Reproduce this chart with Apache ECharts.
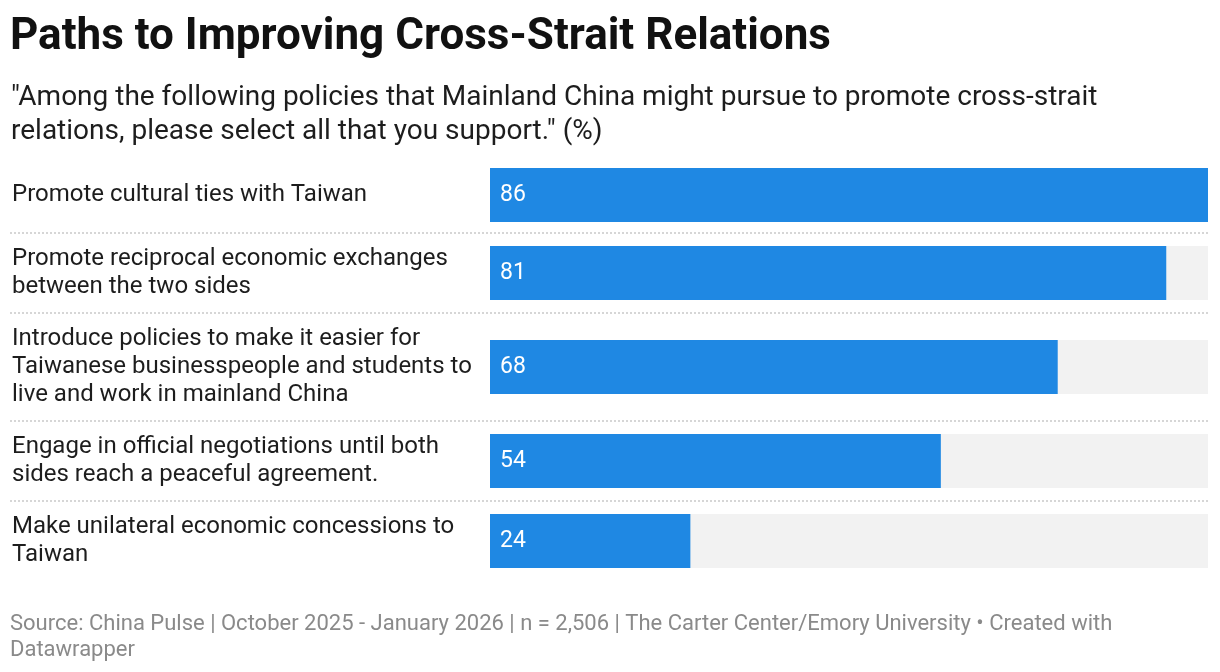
<!DOCTYPE html>
<html>
<head>
<meta charset="utf-8">
<script src="https://cdn.jsdelivr.net/npm/echarts@6/dist/echarts.min.js"></script>
<style>
  html, body { margin: 0; padding: 0; background: #fff; }
  #main { width: 1220px; height: 672px; }
</style>
</head>
<body>
<div id="main"></div>
<script>
// policies (line breaks as in the original wrapping)
const categories = [
  'Promote cultural ties with Taiwan',
  'Promote reciprocal economic exchanges\nbetween the two sides',
  'Introduce policies to make it easier for\nTaiwanese businesspeople and students to\nlive and work in mainland China',
  'Engage in official negotiations until both\nsides reach a peaceful agreement.',
  'Make unilateral economic concessions to\nTaiwan'
];
const values = [86, 81, 68, 54, 24];
const scaleMax = 86;

// row layout (top of each bar), bar height
const rowTops = [168, 246, 340, 434, 514];
const barH = 54;
const sepYs = [233, 313, 421, 501];

const font = 'Roboto, "Noto Sans", sans-serif';

let grids = [], xAxes = [], yAxes = [], series = [];
categories.forEach((cat, i) => {
  grids.push({ left: 490, right: 12, top: rowTops[i], height: barH });
  xAxes.push({
    type: 'value', gridIndex: i, min: 0, max: scaleMax,
    show: false
  });
  yAxes.push({
    type: 'category', gridIndex: i, data: [cat],
    axisLine: { show: false }, axisTick: { show: false },
    axisLabel: {
      align: 'left', margin: 478,
      fontFamily: font, fontSize: 24, lineHeight: 28, color: '#1d1d1d'
    }
  });
  series.push({
    type: 'bar', xAxisIndex: i, yAxisIndex: i,
    data: [values[i]],
    barWidth: barH,
    itemStyle: { color: '#1f88e3' },
    showBackground: true,
    backgroundStyle: { color: '#f2f2f2' },
    label: {
      show: true, position: 'insideLeft', distance: 10,
      color: '#fff', fontFamily: font, fontSize: 23
    },
    silent: true, animation: false
  });
});

let graphics = sepYs.map(y => ({
  type: 'line',
  shape: { x1: 10, y1: y, x2: 1208, y2: y },
  style: { stroke: '#d6d6d6', lineWidth: 2, lineDash: [2, 2] }
}));

let myChart = echarts.init(document.getElementById('main'));
let option = {
  backgroundColor: '#fff',
  animation: false,
  title: [
    {
      text: 'Paths to Improving Cross-Strait Relations',
      left: 10, top: 16, padding: 0,
      textStyle: { fontFamily: font, fontSize: 44, fontWeight: 'bold', color: '#111' }
    },
    {
      text: '"Among the following policies that Mainland China might pursue to promote cross-strait\nrelations, please select all that you support." (%)',
      left: 11, top: 81, padding: 0,
      textStyle: { fontFamily: font, fontSize: 28, fontWeight: 'normal', lineHeight: 34, color: '#1d1d1d' }
    },
    {
      text: 'Source: China Pulse | October 2025 - January 2026 | n = 2,506 | The Carter Center/Emory University • Created with\nDatawrapper',
      left: 10, top: 611, padding: 0,
      textStyle: { fontFamily: font, fontSize: 22, fontWeight: 'normal', lineHeight: 26, color: '#8a8a8a' }
    }
  ],
  grid: grids,
  xAxis: xAxes,
  yAxis: yAxes,
  series: series,
  graphic: graphics
};
myChart.setOption(option);
</script>
</body>
</html>
